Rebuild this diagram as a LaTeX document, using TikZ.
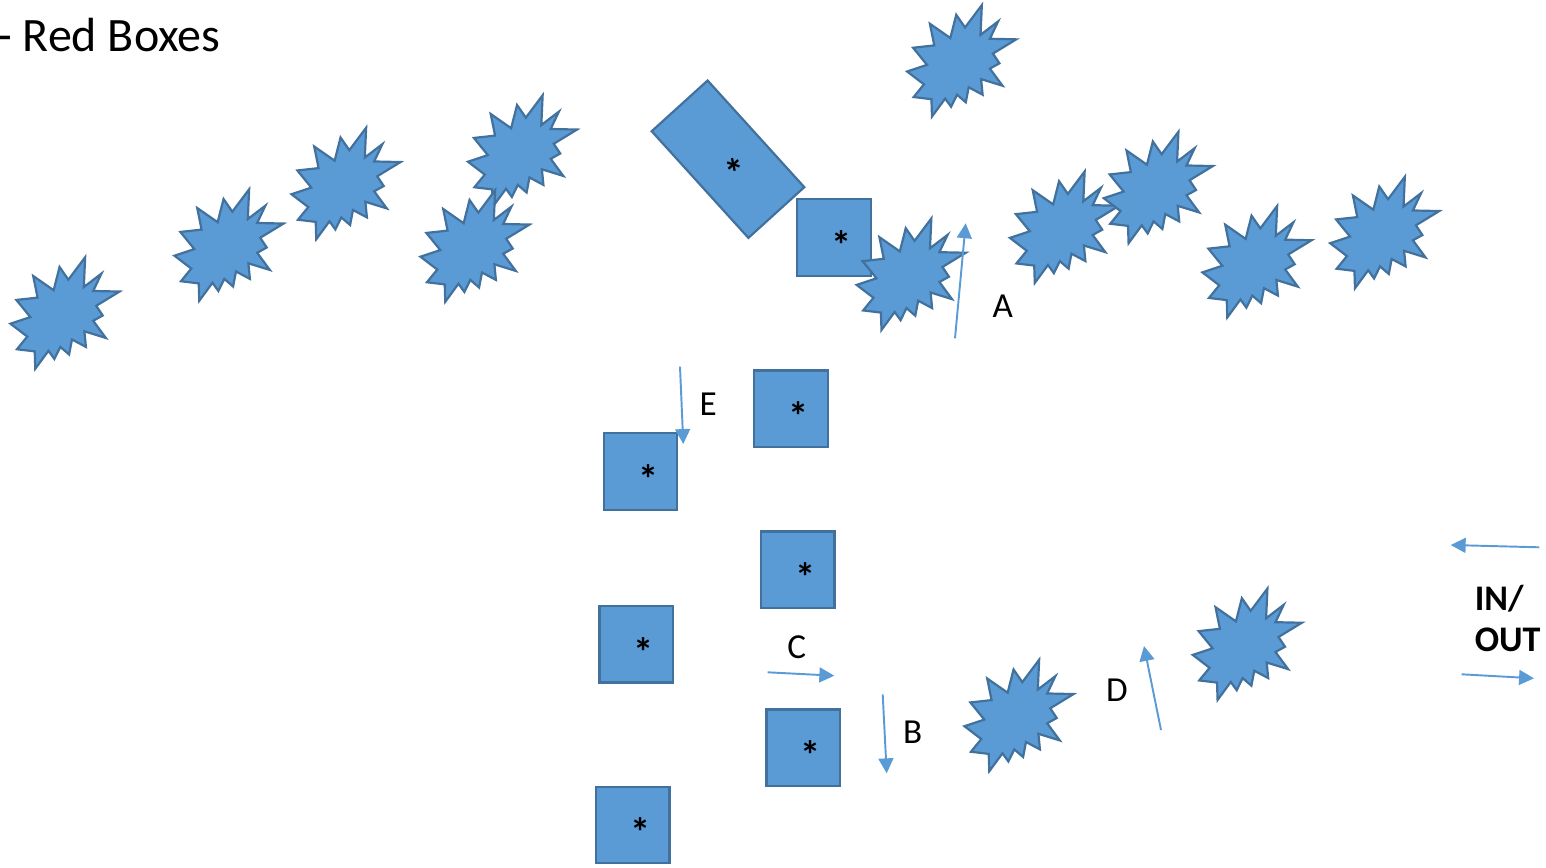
\documentclass[tikz,border=0pt]{standalone}
\usepackage{fontspec}
\setmainfont{Carlito}
\usepackage{tikz}
\usetikzlibrary{arrows.meta}
\definecolor{shapefill}{HTML}{5B9BD5}
\definecolor{shapeline}{HTML}{41719C}
\newcommand\starmark{\hspace*{0.38em}\smash{\raisebox{-0.54em}{*}}}

\begin{document}
\begin{tikzpicture}[x=0.02cm,y=-0.02cm,
		tile/.style={draw=shapeline,fill=shapefill,line width=1.25pt,minimum width=1.47cm,minimum height=1.53cm,inner sep=0pt,font=\bfseries\fontsize{23}{26}\selectfont},
		flow/.style={draw=shapefill,line width=1.1pt,-{Triangle[length=8.5pt,width=8.5pt]}},
		tag/.style={inner sep=0pt,font=\fontsize{20}{24}\selectfont},
		burst/.pic={\draw[draw=shapeline,fill=shapefill,line width=1.25pt,xscale=0.505,yscale=0.516,shift={(-108,-108)}]
			(114.62,43.42) -- (147.90,0) -- (145.25,57.77) -- (180.07,31.72) -- (163.80,65.32) -- (216,66.45) -- (169.85,94.02)
			-- (182.70,112.90) -- (163.80,123.10) -- (188.77,156.32) -- (146.40,143.50) -- (149.42,173.70) -- (121.80,159.35)
			-- (116.12,188.42) -- (98.72,173.70) -- (87,197.12) -- (75.27,181.25) -- (49.17,216) -- (48.05,182.40)
			-- (12.85,178.25) -- (33.30,153.70) -- (0,128.77) -- (39.35,115.92) -- (11.72,82.70) -- (53.72,78.17)
			-- (45.02,36.25) -- (85.50,63.82) -- (97.22,18.87) -- cycle;}]
		\useasboundingbox (0,0) rectangle (1546,868);
		\node[anchor=base west,inner sep=0pt,font=\fontsize{27.3}{32}\selectfont] (title) at (-3,52) {- Red Boxes};
		\pic at (65,313) {burst};
		\pic at (229,245) {burst};
		\pic at (346,183.5) {burst};
		\pic at (522.5,151) {burst};
		\pic at (475,246) {burst};
		\node[tile,minimum width=2.88cm,minimum height=1.51cm,rotate=-47.8] (bigbox) at (728,159.2) {\starmark};
		\node[tile] (box1) at (834,237.5) {\starmark};
		\pic at (961.7,60.8) {burst};
		\pic at (911.2,274.2) {burst};
		\pic at (1064.5,227.2) {burst};
		\pic at (1158.3,187.5) {burst};
		\pic at (1257,261.7) {burst};
		\pic at (1384.7,232.5) {burst};
		\node[tile] (box2) at (791,408.7) {\starmark};
		\node[tile] (box3) at (640.5,471.4) {\starmark};
		\node[tile] (box4) at (797.7,569.7) {\starmark};
		\node[tile] (box5) at (636.3,644.3) {\starmark};
		\node[tile] (box6) at (803.2,747.8) {\starmark};
		\node[tile] (box7) at (632.8,825) {\starmark};
		\pic at (1019,715.5) {burst};
		\pic at (1247.3,644.2) {burst};
		\coordinate (a0) at (955,338.3);
		\coordinate (a1) at (965.7,223.3);
		\coordinate (e0) at (680,366.7);
		\coordinate (e1) at (683.3,444);
		\coordinate (c0) at (767.7,672.3);
		\coordinate (c1) at (834.3,675.7);
		\coordinate (b0) at (882.7,694.3);
		\coordinate (b1) at (886.7,773.3);
		\coordinate (d0) at (1161,730);
		\coordinate (d1) at (1144,646);
		\coordinate (in0) at (1539.3,547.3);
		\coordinate (in1) at (1450.7,545);
		\coordinate (out0) at (1461.7,674.3);
		\coordinate (out1) at (1534,678.3);
		\draw[flow] (a0) -- (a1);
		\draw[flow] (e0) -- (e1);
		\draw[flow] (c0) -- (c1);
		\draw[flow] (b0) -- (b1);
		\draw[flow] (d0) -- (d1);
		\draw[flow] (in0) -- (in1);
		\draw[flow] (out0) -- (out1);
		\node[tag] (la) at (1002.7,306.7) {A};
		\node[tag] (le) at (708.3,404.3) {E};
		\node[tag] (lc) at (796.7,647.3) {C};
		\node[tag] (lb) at (912.7,732.7) {B};
		\node[tag] (ld) at (1116.8,690) {D};
		\node[tag,anchor=base west,font=\bfseries\fontsize{20.5}{24}\selectfont] (inlabel) at (1474.5,610) {IN/};
		\node[tag,anchor=base west,font=\bfseries\fontsize{20.5}{24}\selectfont] (outlabel) at (1474.5,651) {OUT};
\end{tikzpicture}
\end{document}
